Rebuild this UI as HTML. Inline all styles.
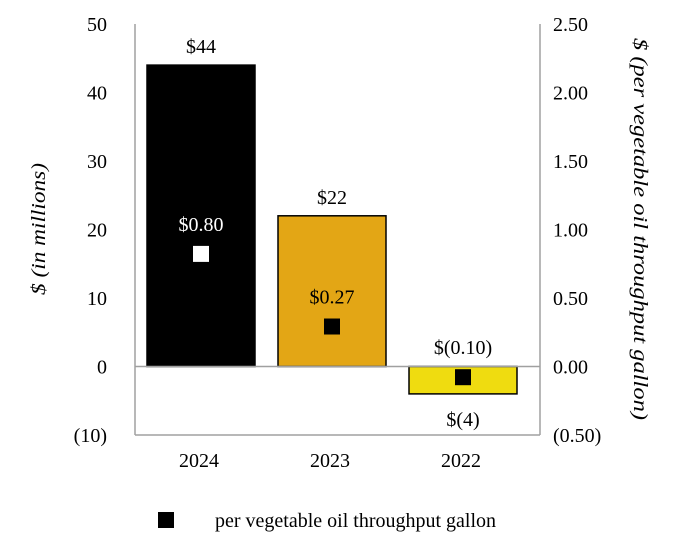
<!DOCTYPE html>
<html><head><meta charset="utf-8"><style>
body{margin:0;background:#fff;}
svg text{font-family:"Liberation Serif",serif;font-size:20px;}
</style></head><body>
<svg id="c" width="682" height="552" viewBox="0 0 682 552"></svg>
<script>
const categories=["2024","2023","2022"];
const millions=[44,22,-4];
const perGallon=[0.80,0.27,-0.10];
const millionLabels=["$44","$22","$(4)"];
const gallonLabels=["$0.80","$0.27","$(0.10)"];
const leftTicks=[50,40,30,20,10,0,-10];
const leftTickLabels=["50","40","30","20","10","0","(10)"];
const rightTicks=[2.5,2.0,1.5,1.0,0.5,0,-0.5];
const rightTickLabels=["2.50","2.00","1.50","1.00","0.50","0.00","(0.50)"];
const colors=["#000000","#e3a615","#efdc10"];
const markerColors=["#ffffff","#000000","#000000"];
const NS="http://www.w3.org/2000/svg";
const svg=document.getElementById('c');
const X0=135,X1=540,Y0=24,Y1=435;
const yL=v=>Y1-(v+10)/60*(Y1-Y0);
const yR=v=>Y1-(v+0.5)/3*(Y1-Y0);
const xC=i=>201+131*i;
function mk(tag,attrs,txt){const e=document.createElementNS(NS,tag);for(const k in attrs)e.setAttribute(k,attrs[k]);if(txt!==undefined)e.textContent=txt;svg.appendChild(e);return e;}
let e;
e=mk('line',{x1:X0,y1:Y0,x2:X0,y2:Y1,stroke:'#a0a0a0','stroke-width':1.5});

e=mk('line',{x1:X1,y1:Y0,x2:X1,y2:Y1,stroke:'#a0a0a0','stroke-width':1.5});

e=mk('line',{x1:X0,y1:Y1,x2:X1,y2:Y1,stroke:'#a0a0a0','stroke-width':1.5});

leftTicks.forEach((t,i)=>{e=mk('text',{x:107,y:yL(t)+7,'text-anchor':'end',fill:'#000'},leftTickLabels[i]);
});
rightTicks.forEach((t,i)=>{e=mk('text',{x:553,y:yR(t)+7,'text-anchor':'start',fill:'#000'},rightTickLabels[i]);
});
categories.forEach((c,i)=>{
 const cx=xC(i),w=108,v=millions[i];
 const y=Math.min(yL(v),yL(0)),h=Math.abs(yL(v)-yL(0));
 e=mk('rect',{x:cx-w/2,y:y,width:w,height:h,fill:colors[i],stroke:'#000','stroke-width':1.5});
 
 const ly=v>=0?yL(v)-12:yL(v)+32;
 e=mk('text',{x:cx,y:ly,'text-anchor':'middle',fill:'#000'},millionLabels[i]);
 
 e=mk('text',{x:cx-2,y:467,'text-anchor':'middle',fill:'#000'},c);
 
});
e=mk('line',{x1:X0,y1:yL(0),x2:X1,y2:yL(0),stroke:'#a0a0a0','stroke-width':1.5});

categories.forEach((c,i)=>{
 const cx=xC(i),my=yR(perGallon[i])-3;
 e=mk('rect',{x:cx-8,y:my-8,width:16,height:16,fill:markerColors[i]});
 
 e=mk('text',{x:cx,y:my-23,'text-anchor':'middle',fill:i===0?'#ffffff':'#000000'},gallonLabels[i]);
 
});
e=mk('text',{x:0,y:0,'text-anchor':'middle','font-style':'italic','font-size':'21',fill:'#000',textLength:132,lengthAdjust:'spacingAndGlyphs',transform:'translate(45,229) rotate(-90)'},'$ (in millions)');

e=mk('text',{x:0,y:0,'text-anchor':'middle','font-style':'italic','font-size':'21',fill:'#000',textLength:382,lengthAdjust:'spacingAndGlyphs',transform:'translate(634,229) rotate(90)'},'$ (per vegetable oil throughput gallon)');

e=mk('rect',{x:158,y:512,width:16,height:16,fill:'#000'});

e=mk('text',{x:215,y:527,fill:'#000'},'per vegetable oil throughput gallon');

</script>
</body></html>
